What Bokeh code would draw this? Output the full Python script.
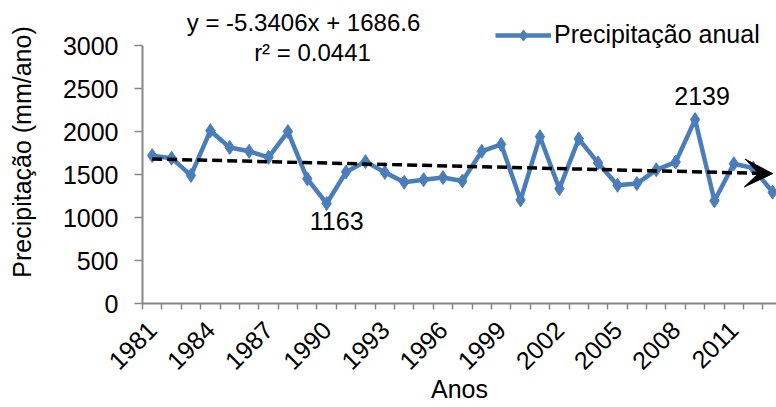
import math
from bokeh.plotting import figure
from bokeh.models import (Range1d, FixedTicker, Label, Arrow, VeeHead, Legend,
                          LegendItem, ColumnDataSource)
from bokeh.embed import file_html
from bokeh.resources import INLINE

# ---- data ----
years = list(range(1981, 2014))
precip = [1720, 1690, 1490, 2010, 1815, 1770, 1700, 2000, 1450, 1163,
          1530, 1650, 1525, 1410, 1440, 1465, 1425, 1770, 1850, 1205,
          1940, 1335, 1915, 1635, 1375, 1395, 1555, 1645, 2139, 1195,
          1625, 1575, 1295]
x_tick_years = [1981, 1984, 1987, 1990, 1993, 1996, 1999, 2002, 2005, 2008, 2011]
y_ticks = [0, 500, 1000, 1500, 2000, 2500, 3000]
y_axis_max = 3000
trend_slope = -5.3406
trend_intercept = 1686.6
trend_r2 = 0.0441
series_name = "Precipitação anual"
x_title = "Anos"
y_title = "Precipitação (mm/ano)"

FONT = "Liberation Sans"
BLUE = "#4a7ebb"
AXIS = "#868686"

p = figure(width=776, height=407, output_backend="svg", toolbar_location=None,
           x_range=Range1d(1980.5, 2013.2), y_range=Range1d(0, 3524),
           min_border_left=142, min_border_right=0, min_border_top=0,
           min_border_bottom=104)
p.outline_line_color = None
p.grid.visible = False

src = ColumnDataSource(dict(x=years, y=precip))
ln = p.line("x", "y", source=src, line_color=BLUE, line_width=4.5)
pts = p.scatter("x", "y", source=src, marker="diamond", size=14,
                fill_color=BLUE, line_color=BLUE)

# trend line (from equation)
trend_y = [trend_intercept + trend_slope * (i + 1) for i in range(len(years))]
p.add_layout(Arrow(x_start=years[0], y_start=trend_y[0],
                   x_end=years[-1], y_end=trend_y[-1],
                   line_color="black", line_width=3.5, line_dash="10 5",
                   end=VeeHead(size=28, fill_color="black", line_color="black",
                               line_width=1)))

# axes
xa = p.xaxis[0]
xa.ticker = FixedTicker(ticks=x_tick_years,
                        minor_ticks=[y - 0.5 for y in years] + [years[-1] + 0.5])
xa.major_label_orientation = math.pi / 4
xa.major_tick_out = 0
xa.major_tick_in = 0
xa.minor_tick_out = 6
xa.minor_tick_in = 0
xa.minor_tick_line_color = AXIS
xa.minor_tick_line_width = 1.5
xa.axis_line_color = AXIS
xa.axis_line_width = 2
xa.major_label_standoff = 16
xa.axis_label = x_title
xa.axis_label_standoff = -6

ya = p.yaxis[0]
ya.ticker = FixedTicker(ticks=y_ticks)
ya.bounds = (0, y_axis_max)
ya.major_tick_out = 8
ya.major_tick_in = 0
ya.minor_tick_out = 0
ya.minor_tick_in = 0
ya.major_tick_line_color = AXIS
ya.major_tick_line_width = 1.5
ya.axis_line_color = AXIS
ya.axis_line_width = 2
ya.major_label_standoff = 16
ya.axis_label = y_title
ya.axis_label_standoff = 24

for ax in (xa, ya):
    ax.major_label_text_font = FONT
    ax.major_label_text_font_size = "25px"
    ax.major_label_text_color = "black"
    ax.axis_label_text_font = FONT
    ax.axis_label_text_font_size = "25px"
    ax.axis_label_text_font_style = "normal"
    ax.axis_label_text_color = "black"

# data labels for min and max
i_min = precip.index(min(precip))
i_max = precip.index(max(precip))
p.add_layout(Label(x=years[i_min], y=precip[i_min], text=str(precip[i_min]),
                   x_offset=10, y_offset=-8, text_align="center",
                   text_baseline="top", text_font=FONT,
                   text_font_size="25px", text_color="black"))
p.add_layout(Label(x=years[i_max], y=precip[i_max], text=str(precip[i_max]),
                   x_offset=7, y_offset=15, text_align="center",
                   text_baseline="bottom", text_font=FONT,
                   text_font_size="25px", text_color="black"))

# trend equation
p.add_layout(Label(x=161, y=281, x_units="screen", y_units="screen",
                   text=f"y = {trend_slope}x + {trend_intercept}",
                   text_align="center", text_baseline="middle", text_font=FONT,
                   text_font_size="24px", text_color="black"))
p.add_layout(Label(x=170, y=251, x_units="screen", y_units="screen",
                   text=f"r² = {trend_r2}",
                   text_align="center", text_baseline="middle", text_font=FONT,
                   text_font_size="24px", text_color="black"))

legend = Legend(items=[LegendItem(label=series_name, renderers=[ln, pts])],
                location=(353, 254), orientation="vertical",
                label_text_font=FONT, label_text_font_size="25px",
                label_text_color="black", glyph_width=56, glyph_height=28,
                label_height=28, label_standoff=3, padding=0, margin=0,
                spacing=0, border_line_color=None, background_fill_alpha=0)
p.add_layout(legend, "center")

open("out.html", "w").write(file_html(p, INLINE))
